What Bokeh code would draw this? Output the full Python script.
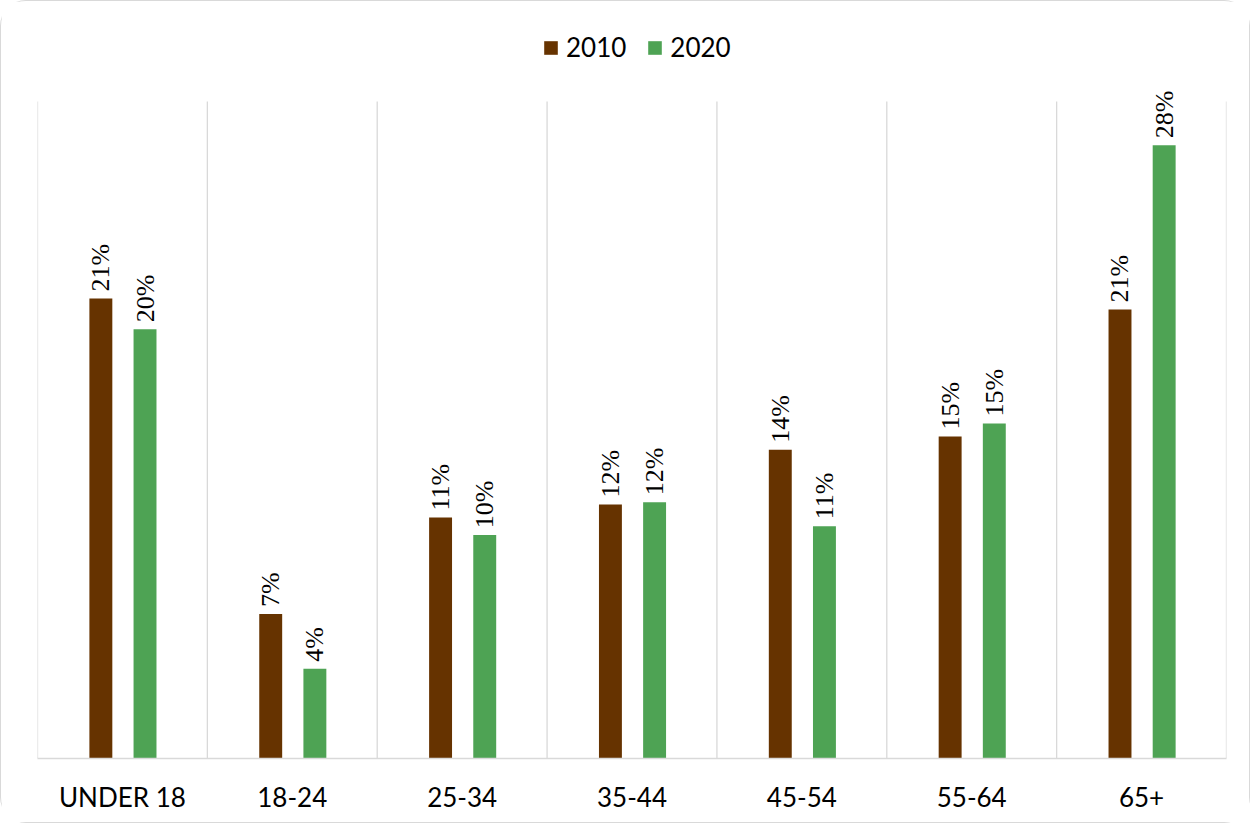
from bokeh.plotting import figure
from bokeh.models import ColumnDataSource, FactorRange, Range1d, Legend, LegendItem, LabelSet
from bokeh.transform import dodge
from bokeh.embed import file_html
from bokeh.resources import INLINE
import math

categories = ["UNDER 18", "18-24", "25-34", "35-44", "45-54", "55-64", "65+"]
v2010 = [21.0, 6.6, 11.0, 11.6, 14.1, 14.7, 20.5]
v2020 = [19.6, 4.1, 10.2, 11.7, 10.6, 15.3, 28.0]
series = ["2010", "2020"]
colors = ["#663300", "#4EA354"]
separators = list(range(len(categories) + 1))


def pct(v):
    return f"{math.floor(v + 0.5)}%"


src = ColumnDataSource(dict(
    cat=categories,
    v2010=v2010,
    v2020=v2020,
    l2010=[pct(v) for v in v2010],
    l2020=[pct(v) for v in v2020],
))

Y_TOP = 30.0
frame_h = 757 - 20
p = figure(width=1250, height=823, x_range=FactorRange(*categories),
           y_range=Range1d(0, Y_TOP * frame_h / 657.0),
           output_backend="svg", toolbar_location=None,
           min_border_left=36, min_border_right=25, min_border_top=20, min_border_bottom=66)
p.styles = {"border": "1.5px solid #d9d9d9", "border-radius": "26px"}
p.outline_line_color = None
p.background_fill_color = "white"
p.border_fill_color = "white"

# category separators (vertical gridlines between categories)
p.segment(x0=separators, y0=[0] * len(separators), x1=separators, y1=[Y_TOP] * len(separators),
          line_color="#d9d9d9", line_width=1.3)

offsets = [-0.127, 0.133]
renderers = []
for s, col, off in zip(series, colors, offsets):
    r = p.vbar(x=dodge("cat", off, range=p.x_range), top="v" + s, width=0.135, source=src,
               fill_color=col, line_color=None)
    renderers.append(r)
    labels = LabelSet(x=dodge("cat", off, range=p.x_range), y="v" + s, text="l" + s, source=src,
                      angle=math.pi / 2, text_align="left", text_baseline="middle",
                      y_offset=7, text_font="Lato", text_font_size="26px", text_color="#000000")
    p.add_layout(labels)

p.xgrid.grid_line_color = None
p.ygrid.grid_line_color = None

p.yaxis.visible = False
p.xaxis.axis_line_color = "#d9d9d9"
p.xaxis.axis_line_width = 1.5
p.xaxis.major_tick_line_color = None
p.xaxis.minor_tick_line_color = None
p.xaxis.major_label_text_font = "Lato"
p.xaxis.major_label_text_font_size = "26px"
p.xaxis.major_label_text_color = "#000000"
p.xaxis.major_label_standoff = 16

legend = Legend(items=[LegendItem(label=s, renderers=[r]) for s, r in zip(series, renderers)],
                orientation="horizontal", location=(505, 695),
                glyph_width=17, glyph_height=17, label_standoff=7, spacing=20,
                padding=0, margin=0, border_line_color=None, background_fill_alpha=0,
                label_text_font="Lato", label_text_font_size="26px", label_text_color="#000000")
p.add_layout(legend, "center")

open("out.html", "w").write(file_html(p, INLINE))
